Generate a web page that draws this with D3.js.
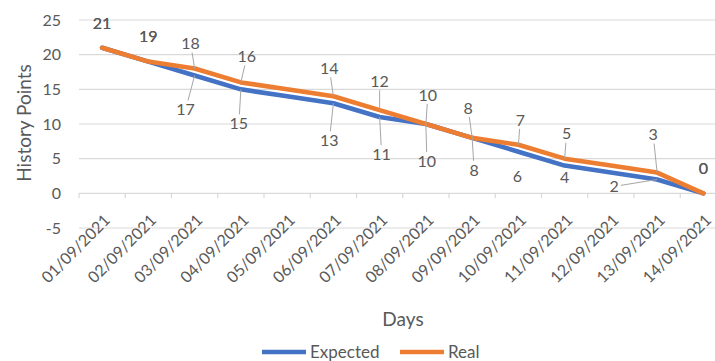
<!DOCTYPE html>
<html>
<head>
<meta charset="utf-8">
<script src="https://cdn.jsdelivr.net/npm/d3@7"></script>
<style>
  html, body { margin: 0; padding: 0; background: #fff; }
  svg text { font-family: Lato, "Open Sans", sans-serif; fill: #595959; }
</style>
</head>
<body>
<svg id="chart" width="715" height="361"></svg>
<script>
// Sprint burndown: story points remaining per day
const days = ["01/09/2021","02/09/2021","03/09/2021","04/09/2021","05/09/2021","06/09/2021","07/09/2021",
              "08/09/2021","09/09/2021","10/09/2021","11/09/2021","12/09/2021","13/09/2021","14/09/2021"];
const expected = [21, 19, 17, 15, 14, 13, 11, 10, 8, 6, 4, 3, 2, 0];
const real     = [21, 19, 18, 16, 15, 14, 12, 10, 8, 7, 5, 4, 3, 0];
const yTicks   = [-5, 0, 5, 10, 15, 20, 25];
const seriesNames = ["Expected", "Real"];

// Data-label placement (offset from the point, whether to draw a leader line); null = hidden
const expectedLabelPlacement = [[0,-24,0],[0,-25,0],[-9,34,1],[-2,34,1],null,[-4,37,1],[2,37,1],
                                [1,37,1],[2,32,1],[-1,25,0],[0,12,0],null,[-43,7,1],[0,-25,0]];
const realLabelPlacement     = [[0,-24,0],[0,-25,0],[-4,-25,1],[6,-26,1],null,[-4,-28,1],[0,-29,1],
                                [2,-29,1],[-4,-30,1],[2,-25,1],[2,-25,1],null,[-4,-38,1],[0,-25,0]];

const colors = { Expected: "#4472C4", Real: "#ED7D31" };

const svg = d3.select("#chart");
const plotLeft = 79, step = 46.25, plotTop = 20, plotBottom = 228;

const x = d3.scaleBand().domain(days).range([plotLeft, plotLeft + step * days.length]).paddingInner(0).paddingOuter(0);
const y = d3.scaleLinear().domain([-5, 25]).range([plotBottom, plotTop]);
const cx = d => x(d) + x.bandwidth() / 2;

// horizontal gridlines
svg.append("g").selectAll("line").data(yTicks).join("line")
  .attr("x1", plotLeft).attr("x2", 715)
  .attr("y1", d => y(d)).attr("y2", d => y(d))
  .attr("stroke", "#d9d9d9").attr("stroke-width", 1.2);

// y tick labels
svg.append("g").selectAll("text").data(yTicks).join("text")
  .attr("x", 61).attr("y", d => y(d)).attr("dy", "0.36em")
  .attr("text-anchor", "end").attr("font-size", 16)
  .text(d => d);

// category boundary tick marks on the zero line
const boundaries = days.map(d => x(d)).concat([x(days[days.length - 1]) + x.bandwidth()]);
svg.append("g").selectAll("line").data(boundaries).join("line")
  .attr("x1", d => d).attr("x2", d => d)
  .attr("y1", y(0)).attr("y2", y(0) + 5)
  .attr("stroke", "#d9d9d9").attr("stroke-width", 1.2);

// x tick labels, rotated
const xAxis = d3.axisBottom(x).tickSize(0).tickPadding(0);
const gx = svg.append("g").attr("transform", `translate(0,${y(0)})`).call(xAxis);
gx.select(".domain").remove();
gx.selectAll("text")
  .attr("font-size", 16).attr("fill", "#595959")
  .attr("font-family", "Lato, 'Open Sans', sans-serif")
  .attr("text-anchor", "end")
  .attr("dy", "0.35em")
  .attr("transform", "translate(5,24) rotate(-45)")
  .attr("x", 0).attr("y", 0);

// axis titles
svg.append("text").attr("transform", `translate(31,123) rotate(-90)`)
  .attr("text-anchor", "middle").attr("font-size", 19).text("History Points");
svg.append("text").attr("x", 403).attr("y", 326)
  .attr("text-anchor", "middle").attr("font-size", 19).text("Days");

// lines
const line = d3.line().x((d, i) => cx(days[i])).y(d => y(d));
[["Expected", expected], ["Real", real]].forEach(([name, vals]) => {
  svg.append("path").datum(vals)
    .attr("d", line)
    .attr("fill", "none")
    .attr("stroke", colors[name])
    .attr("stroke-width", 4.6)
    .attr("stroke-linejoin", "round")
    .attr("stroke-linecap", "round");
});

// data labels with leader lines
const labelLayer = svg.append("g");
function drawLabels(vals, placement) {
  vals.forEach((v, i) => {
    const p = placement[i];
    if (!p) return;
    const px = cx(days[i]), py = y(v);
    const lx = px + p[0], ly = py + p[1];
    if (p[2]) {
      const w = String(v).length * 9.3 / 2 + 2, h = 9;
      const dx = px - lx, dy = py - ly;
      const t = Math.min(Math.abs(dx) > 0 ? w / Math.abs(dx) : Infinity, Math.abs(dy) > 0 ? h / Math.abs(dy) : Infinity);
      labelLayer.append("line")
        .attr("x1", lx + dx * t).attr("y1", ly + dy * t)
        .attr("x2", px).attr("y2", py)
        .attr("stroke", "#a6a6a6").attr("stroke-width", 1);
    }
    labelLayer.append("text")
      .attr("x", lx).attr("y", ly).attr("dy", "0.36em")
      .attr("text-anchor", "middle").attr("font-size", 16)
      .text(v);
  });
}
drawLabels(expected, expectedLabelPlacement);
drawLabels(real, realLabelPlacement);

// legend
const legend = svg.append("g");
const legendItems = [{ name: seriesNames[0], x: 262 }, { name: seriesNames[1], x: 400 }];
legendItems.forEach(it => {
  legend.append("line").attr("x1", it.x).attr("x2", it.x + 44)
    .attr("y1", 352).attr("y2", 352)
    .attr("stroke", colors[it.name]).attr("stroke-width", 4.6);
  legend.append("text").attr("x", it.x + 48).attr("y", 352).attr("dy", "0.36em")
    .attr("font-size", 17).text(it.name);
});
</script>
</body>
</html>
